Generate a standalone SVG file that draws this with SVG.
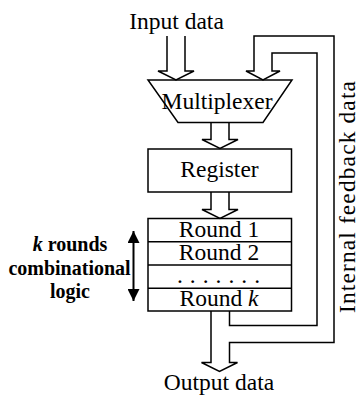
<svg xmlns="http://www.w3.org/2000/svg" width="359" height="397" viewBox="0 0 359 397">
<style>
.ln{fill:none;stroke:#000;stroke-width:1.5;stroke-linejoin:miter}
.bx{fill:#fff;stroke:#000;stroke-width:1.5}
.t{font-family:"Liberation Serif","Times New Roman",serif;font-size:23.5px;fill:#000;text-anchor:middle}
.b{font-family:"Liberation Serif","Times New Roman",serif;font-size:20px;font-weight:bold;fill:#000;text-anchor:middle}
</style>
<defs>
<marker id="ah" viewBox="0 0 12 12" refX="12" refY="6" markerWidth="12" markerHeight="12" markerUnits="userSpaceOnUse" orient="auto-start-reverse">
<path d="M0,0 L12,6 L0,12 Z" fill="#000"/>
</marker>
</defs>
<rect width="359" height="397" fill="#fff"/>
<text class="t" x="176.5" y="29" font-size="24">Input data</text>
<g id="multiplexer">
<polygon class="bx" points="148,80 292,80 263,122.5 178,122.5"/>
<text class="t" x="217" y="108.5">Multiplexer</text>
</g>
<g id="register">
<rect class="bx" x="148" y="149" width="143.5" height="43"/>
<text class="t" x="219.5" y="177">Register</text>
</g>
<g id="rounds">
<rect class="bx" x="148" y="218.5" width="143.5" height="92.5"/>
<line class="ln" x1="148" y1="241.8" x2="291.5" y2="241.8"/>
<line class="ln" x1="148" y1="265" x2="291.5" y2="265"/>
<line class="ln" x1="148" y1="288.3" x2="291.5" y2="288.3"/>
<text class="t" x="219" y="236.5">Round 1</text>
<text class="t" x="219" y="259.8">Round 2</text>
<text class="t" x="222" y="283" font-size="14" letter-spacing="7">.......</text>
<text class="t" x="219" y="306">Round <tspan font-style="italic">k</tspan></text>
</g>
<g id="label-left">
<text class="b" x="70" y="251"><tspan font-style="italic">k</tspan> rounds</text>
<text class="b" x="69.5" y="275">combinational</text>
<text class="b" x="70" y="298">logic</text>
<line x1="133.5" y1="231" x2="133.5" y2="301" stroke="#000" stroke-width="2" marker-start="url(#ah)" marker-end="url(#ah)"/>
</g>
<g id="connectors">
<polyline class="ln" points="167,36 167,71 158,71 176,80 194,71 185,71 185,36"/>
<polyline class="ln" points="211,122.5 211,139.5 202,139.5 220,148.5 238,139.5 229,139.5 229,122.5"/>
<polyline class="ln" points="211,192 211,209.5 202,209.5 220,218.5 238,209.5 229,209.5 229,192"/>
<polyline class="ln" points="211,311 211,362.5 201.5,362.5 219.5,371.5 237.5,362.5 229.5,362.5 229.5,342.5 334,342.5 334,36 254,36 254,71 246,71 263,80 280,71 272,71 272,53 317,53 317,325.5 229.5,325.5 229.5,311"/>
</g>
<text class="t" x="219" y="390">Output data</text>
<text class="t" font-size="24" transform="translate(355,197) rotate(-90)" textLength="232" lengthAdjust="spacing">Internal feedback data</text>
</svg>
